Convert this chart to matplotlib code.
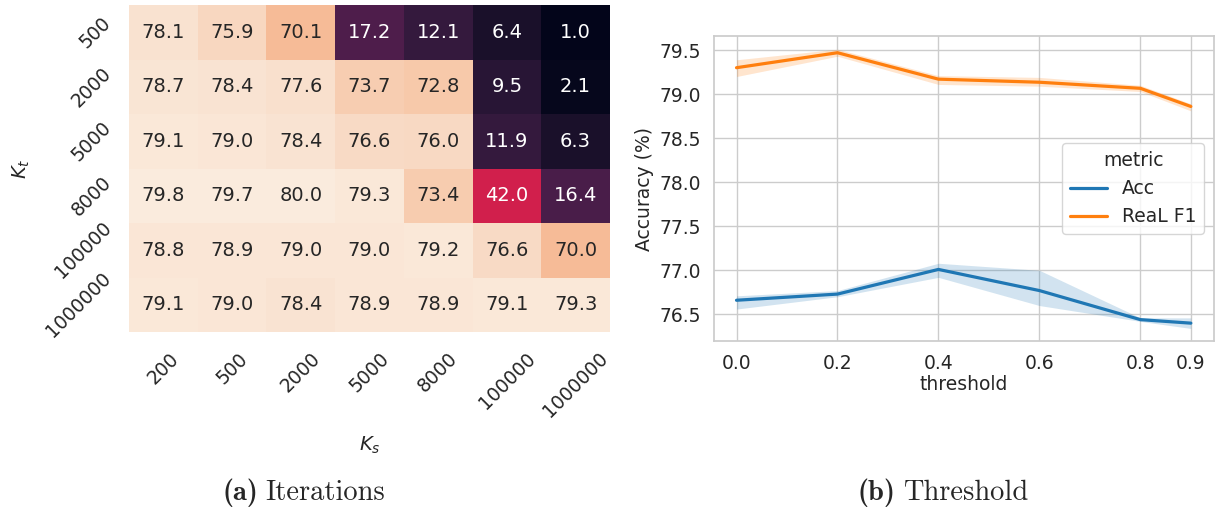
import numpy as np
import pandas as pd
import matplotlib
matplotlib.use("Agg")
import matplotlib.pyplot as plt
import seaborn as sns

# heatmap data (Kt rows x Ks columns)
ks_labels = ['200', '500', '2000', '5000', '8000', '100000', '1000000']
kt_labels = ['500', '2000', '5000', '8000', '100000', '1000000']
row_500 = [78.1, 75.9, 70.1, 17.2, 12.1, 6.4, 1.0]
row_2000 = [78.7, 78.4, 77.6, 73.7, 72.8, 9.5, 2.1]
row_5000 = [79.1, 79.0, 78.4, 76.6, 76.0, 11.9, 6.3]
row_8000 = [79.8, 79.7, 80.0, 79.3, 73.4, 42.0, 16.4]
row_100000 = [78.8, 78.9, 79.0, 79.0, 79.2, 76.6, 70.0]
row_1000000 = [79.1, 79.0, 78.4, 78.9, 78.9, 79.1, 79.3]

# threshold data (mean and confidence band)
thresholds = [0.0, 0.2, 0.4, 0.6, 0.8, 0.9]
acc_mean = [76.66, 76.73, 77.01, 76.77, 76.44, 76.40]
acc_low = [76.56, 76.70, 76.92, 76.60, 76.42, 76.34]
acc_high = [76.71, 76.77, 77.08, 77.00, 76.46, 76.46]
f1_mean = [79.30, 79.47, 79.17, 79.135, 79.066, 78.86]
f1_low = [79.20, 79.43, 79.11, 79.09, 79.03, 78.81]
f1_high = [79.39, 79.51, 79.21, 79.19, 79.10, 78.89]

sns.set_theme(style='whitegrid')

fig = plt.figure(figsize=(12.16, 5.07), dpi=100)

# ---- (a) heatmap ----
ax1 = fig.add_axes([0.106, 0.345, 0.3956, 0.645])
df = pd.DataFrame([row_500, row_2000, row_5000, row_8000, row_100000, row_1000000],
                  index=kt_labels, columns=ks_labels)
sns.heatmap(df, annot=True, fmt='.1f', cbar=False, ax=ax1,
            annot_kws={'fontsize': 14})
ax1.set_xticklabels(ks_labels, rotation=45, fontsize=13.5)
ax1.set_yticklabels(kt_labels, rotation=45, fontsize=13.5)
ax1.tick_params(axis='x', length=0, pad=12)
ax1.tick_params(axis='y', length=0, pad=10)
ax1.set_xlabel('$K_s$', fontsize=14, labelpad=10)
ax1.set_ylabel('$K_t$', fontsize=14, labelpad=8)

# ---- (b) threshold lineplot ----
ax2 = fig.add_axes([0.587, 0.327, 0.411, 0.602])
ax2.plot(thresholds, acc_mean, color='#1f77b4', lw=2.3, label='Acc')
ax2.fill_between(thresholds, acc_low, acc_high, color='#1f77b4', alpha=0.2, lw=0)
ax2.plot(thresholds, f1_mean, color='#ff7f0e', lw=2.3, label='ReaL F1')
ax2.fill_between(thresholds, f1_low, f1_high, color='#ff7f0e', alpha=0.2, lw=0)
ax2.set_xticks(thresholds)
ax2.set_xticklabels(['0.0', '0.2', '0.4', '0.6', '0.8', '0.9'])
ax2.set_yticks([76.5, 77.0, 77.5, 78.0, 78.5, 79.0, 79.5])
ax2.set_xlim(-0.045, 0.945)
ax2.set_ylim(76.195, 79.66)
ax2.tick_params(labelsize=13.5)
ax2.set_xlabel('threshold', fontsize=13.5, labelpad=1)
ax2.set_ylabel('Accuracy (%)', fontsize=13.5)
leg = ax2.legend(title='metric', loc='center right', fontsize=13.5, title_fontsize=13.5)

# captions: bold label + roman text
fig.text(0.2122, 0.014, '(a)', ha='right', va='baseline', fontsize=20.5, fontfamily='cmb10')
fig.text(0.2185, 0.014, 'Iterations', ha='left', va='baseline', fontsize=20.5, fontfamily='cmr10')
fig.text(0.7365, 0.014, '(b)', ha='right', va='baseline', fontsize=20.5, fontfamily='cmb10')
fig.text(0.7428, 0.014, 'Threshold', ha='left', va='baseline', fontsize=20.5, fontfamily='cmr10')

fig.savefig('out.png', dpi=100)
